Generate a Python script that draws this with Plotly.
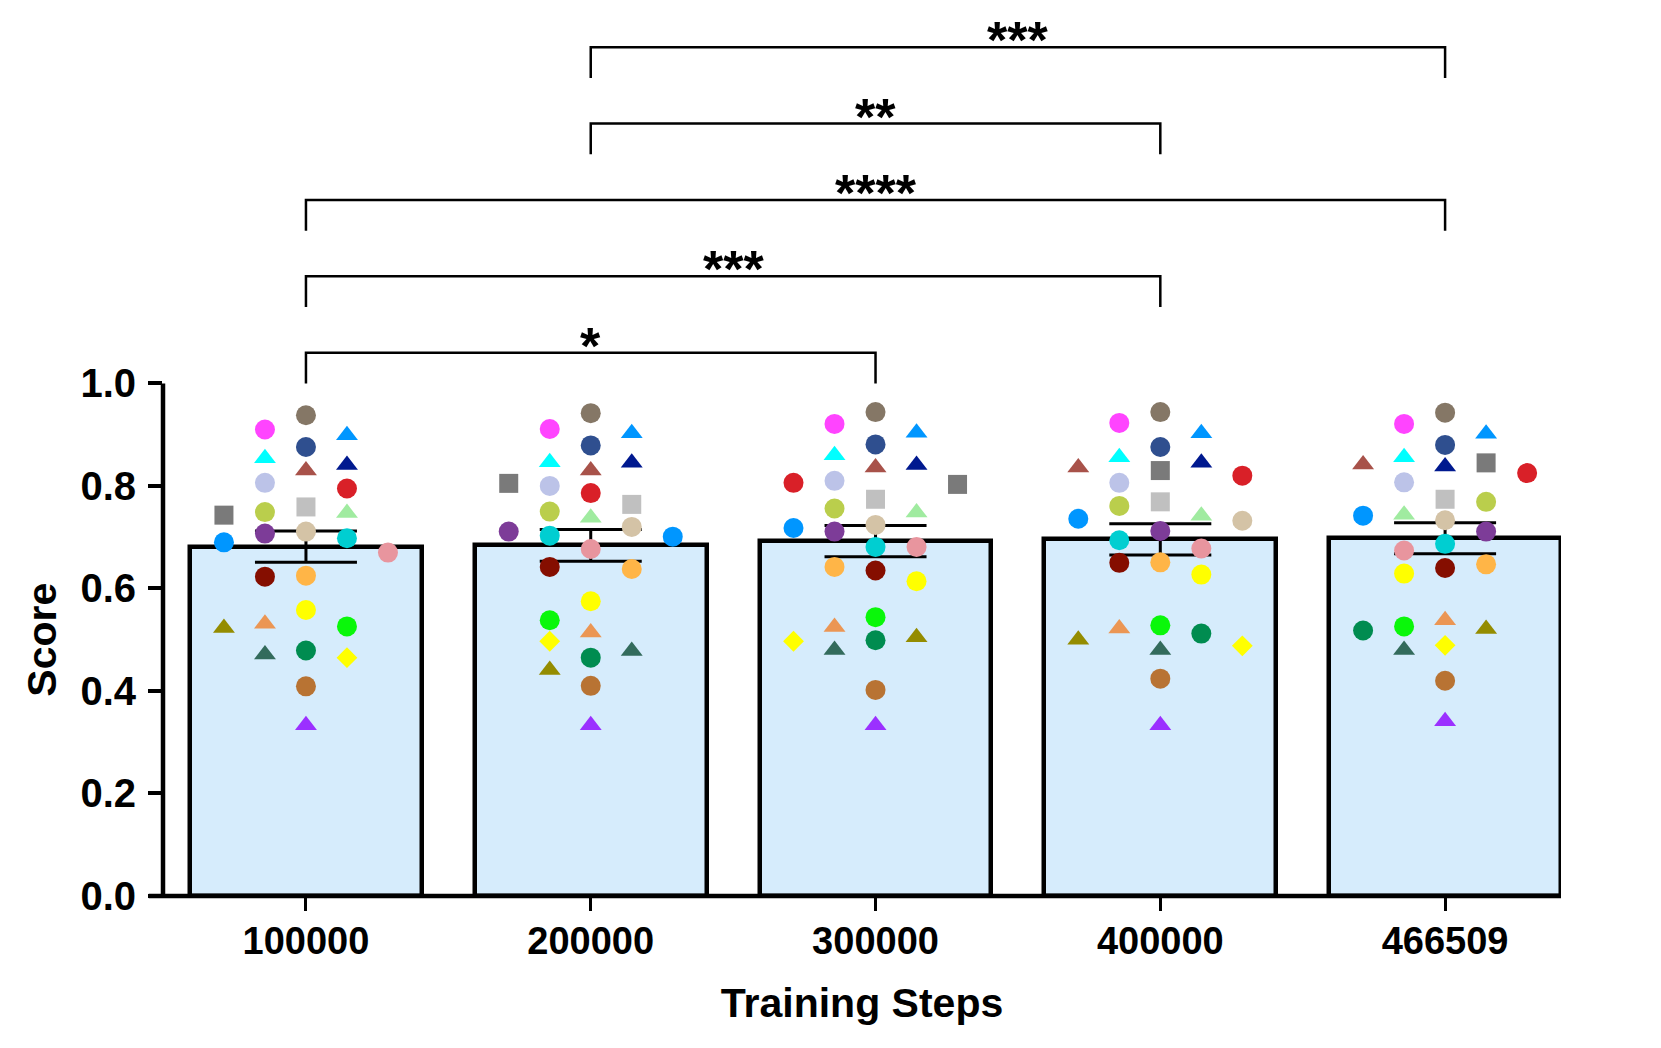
import numpy as np
import plotly.graph_objects as go

# ---------------- data ----------------
STEPS = ["100000", "200000", "300000", "400000", "466509"]

MODELS = [
    "magenta circle", "cyan triangle", "grey square", "teal circle", "yellow circle",
    "dark green triangle", "navy triangle", "red circle", "light green triangle", "blue circle",
    "dark red circle", "lime circle", "violet triangle", "copper circle", "jade circle",
    "blue triangle", "lavender circle", "light grey square", "tan circle", "pink circle",
    "orange circle", "orange triangle", "yellow diamond", "taupe circle", "dark blue circle",
    "brick triangle", "olive circle", "purple circle", "olive triangle",
]

SCORES_100000 = [0.910, 0.854, 0.743, 0.698, 0.558, 0.471, 0.841, 0.795, 0.747, 0.690,
                 0.623, 0.526, 0.333, 0.409, 0.479, 0.899, 0.806, 0.759, 0.711, 0.670,
                 0.625, 0.531, 0.465, 0.938, 0.876, 0.830, 0.749, 0.707, 0.523]
SCORES_200000 = [0.911, 0.846, 0.805, 0.703, 0.575, 0.478, 0.845, 0.786, 0.738, 0.701,
                 0.642, 0.538, 0.333, 0.410, 0.465, 0.903, 0.800, 0.764, 0.720, 0.677,
                 0.638, 0.514, 0.497, 0.942, 0.879, 0.830, 0.750, 0.711, 0.441]
SCORES_300000 = [0.921, 0.860, 0.803, 0.681, 0.614, 0.480, 0.841, 0.806, 0.748, 0.718,
                 0.635, 0.544, 0.333, 0.402, 0.499, 0.904, 0.810, 0.774, 0.724, 0.681,
                 0.642, 0.525, 0.497, 0.944, 0.881, 0.836, 0.756, 0.711, 0.505]
SCORES_400000 = [0.923, 0.856, 0.830, 0.694, 0.627, 0.480, 0.845, 0.820, 0.742, 0.736,
                 0.650, 0.528, 0.333, 0.424, 0.512, 0.903, 0.806, 0.769, 0.732, 0.678,
                 0.651, 0.522, 0.488, 0.944, 0.876, 0.836, 0.761, 0.712, 0.500]
SCORES_466509 = [0.921, 0.856, 0.845, 0.687, 0.629, 0.480, 0.838, 0.825, 0.744, 0.742,
                 0.640, 0.526, 0.341, 0.420, 0.518, 0.902, 0.807, 0.774, 0.733, 0.674,
                 0.647, 0.538, 0.489, 0.943, 0.880, 0.842, 0.769, 0.711, 0.521]

COMPARE_FROM = [0, 0, 0, 1, 1]
COMPARE_TO = [2, 3, 4, 3, 4]
COMPARE_LABEL = ["*", "***", "****", "**", "***"]

# ---------------- styles ----------------
MARKER_COLORS = [
    "#FF44FF", "#00FFFF", "#7A7A7A", "#00CED1", "#FFFF00",
    "#336B5C", "#00198F", "#D92028", "#A0EBA0", "#0096FF",
    "#850E00", "#0AF70A", "#9B30FF", "#B87333", "#008C50",
    "#0096FF", "#BCC3E8", "#C0C0C0", "#D4C3A6", "#E8959E",
    "#FFB547", "#EB9654", "#FFFF00", "#857766", "#2F4F8F",
    "#A8524A", "#BACE4C", "#7D3C98", "#948C00",
]
MARKER_SYMBOLS = [
    "circle", "triangle-up", "square", "circle", "circle",
    "triangle-up", "triangle-up", "circle", "triangle-up", "circle",
    "circle", "circle", "triangle-up", "circle", "circle",
    "triangle-up", "circle", "square", "circle", "circle",
    "circle", "triangle-up", "diamond", "circle", "circle",
    "triangle-up", "circle", "circle", "triangle-up",
]
SYMBOL_SIZE = {"circle": 20, "square": 19, "triangle-up": 19, "diamond": 16}

FONT = "Arial, Liberation Sans, Helvetica, sans-serif"
BAR_FILL = "#D6ECFC"

groups = [SCORES_100000, SCORES_200000, SCORES_300000, SCORES_400000, SCORES_466509]
n_groups = len(groups)


def swarm_offsets(values, min_gap=0.041, step=0.144):
    """Simple column swarm: place each point in the nearest column where it does not overlap."""
    vals = np.asarray(values, dtype=float)
    order = np.argsort(-vals, kind="stable")
    placed = {}
    offs = np.zeros(len(vals))
    candidates = [0]
    for k in range(1, 8):
        candidates += [-k, k]
    for i in order:
        v = vals[i]
        for c in candidates:
            if all(abs(v - u) >= min_gap for u in placed.get(c, [])):
                placed.setdefault(c, []).append(v)
                offs[i] = c * step
                break
    return offs


means = [float(np.mean(g)) for g in groups]
sems = [float(np.std(g, ddof=1) / np.sqrt(len(g))) for g in groups]
offsets = [swarm_offsets(g) for g in groups]

fig = go.Figure()

fig.add_trace(go.Bar(
    x=list(range(n_groups)), y=means, width=0.814,
    marker=dict(color=BAR_FILL, line=dict(color="black", width=4.5)),
    error_y=dict(type="data", array=sems, visible=True, color="black", thickness=3, width=51),
    showlegend=False, hoverinfo="skip",
))

for s, name in enumerate(MODELS):
    xs = [gi + offsets[gi][s] for gi in range(n_groups)]
    ys = [groups[gi][s] for gi in range(n_groups)]
    sym = MARKER_SYMBOLS[s]
    fig.add_trace(go.Scatter(
        x=xs, y=ys, mode="markers", name=name, showlegend=False,
        marker=dict(symbol=sym, color=MARKER_COLORS[s], size=SYMBOL_SIZE[sym], line=dict(width=0)),
    ))

# significance brackets
base = 1.06
gap = 0.149
leg = 0.06
for lvl, (a, b, lab) in enumerate(zip(COMPARE_FROM, COMPARE_TO, COMPARE_LABEL)):
    yl = base + gap * lvl
    fig.add_shape(type="path", xref="x", yref="y",
                  path=f"M {a},{yl - leg} L {a},{yl} L {b},{yl} L {b},{yl - leg}",
                  line=dict(color="black", width=2.5))
    fig.add_annotation(x=(a + b) / 2, y=yl, xref="x", yref="y", text=lab, showarrow=False,
                       yanchor="bottom", yshift=-24,
                       font=dict(family=FONT, size=52, color="black", weight="bold"))

# y axis line only from 0 to 1.0
fig.add_shape(type="line", xref="paper", yref="y", x0=0, x1=0, y0=0, y1=1.0,
              line=dict(color="black", width=4.5))
# x axis line, running out to the start of the y ticks
fig.add_shape(type="line", xref="paper", yref="paper", x0=-0.0102, x1=1, y0=0, y1=0,
              line=dict(color="black", width=4.5))

# y axis title centred on the 0-1 scale
fig.add_annotation(x=0, y=0.5, xref="paper", yref="y", xshift=-121, text="Score",
                   textangle=-90, showarrow=False, xanchor="center", yanchor="middle",
                   font=dict(family=FONT, size=41, color="black", weight="bold"))

fig.update_layout(
    width=1653, height=1040,
    margin=dict(l=155, r=100, t=12, b=152),
    plot_bgcolor="white", paper_bgcolor="white",
    font=dict(family=FONT, color="black", weight="bold"),
    bargap=0,
)
fig.update_xaxes(
    range=[-0.502, 4.407], tickmode="array", tickvals=list(range(n_groups)), ticktext=STEPS,
    showline=False, ticks="outside", ticklen=14, tickwidth=3,
    tickcolor="black", showgrid=False, zeroline=False, ticklabelstandoff=-3,
    tickfont=dict(family=FONT, size=38, color="black", weight="bold"),
    title=dict(text="Training Steps", standoff=27,
               font=dict(family=FONT, size=41, color="black", weight="bold")),
)
fig.update_yaxes(
    range=[0, 1.709], tickmode="array", tickvals=[0, 0.2, 0.4, 0.6, 0.8, 1.0],
    ticktext=["0.0", "0.2", "0.4", "0.6", "0.8", "1.0"],
    showline=False, ticks="outside", ticklen=14, tickwidth=4, tickcolor="black",
    showgrid=False, zeroline=False, ticklabelstandoff=4,
    tickfont=dict(family=FONT, size=40, color="black", weight="bold"),
)

fig.write_html("out.html")
